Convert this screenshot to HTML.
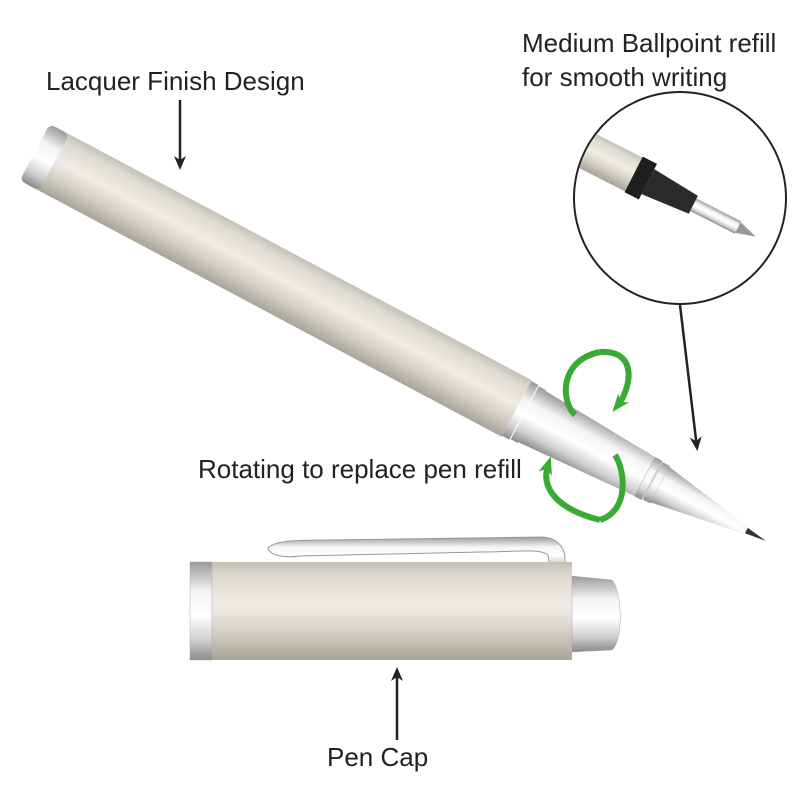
<!DOCTYPE html>
<html><head><meta charset="utf-8"><style>
html,body{margin:0;padding:0;background:#fff;}
svg{display:block;}
text{font-family:"Liberation Sans",Arial,sans-serif;fill:#222;font-size:26px;}
</style></head><body>
<svg width="800" height="800" viewBox="0 0 800 800" xmlns="http://www.w3.org/2000/svg">
<defs>
<linearGradient id="body" x1="0" y1="0" x2="0" y2="1">
<stop offset="0" stop-color="#c4c0b4"/><stop offset="0.15" stop-color="#dedbd0"/>
<stop offset="0.45" stop-color="#efede7"/><stop offset="0.7" stop-color="#d6d2c6"/>
<stop offset="1" stop-color="#a8a498"/></linearGradient>
<linearGradient id="chrome" x1="0" y1="0" x2="0" y2="1">
<stop offset="0" stop-color="#9a9a9a"/><stop offset="0.3" stop-color="#f4f4f4"/>
<stop offset="0.55" stop-color="#ffffff"/><stop offset="0.8" stop-color="#cfcfcf"/>
<stop offset="1" stop-color="#8a8a8a"/></linearGradient>
<marker id="ah" markerWidth="14" markerHeight="14" refX="11" refY="7" orient="auto" markerUnits="userSpaceOnUse">
<path d="M0,1 L14,7 L0,13 L4,7 Z" fill="#222"/></marker>
<marker id="gh" markerWidth="18" markerHeight="18" refX="9" refY="9" orient="auto" markerUnits="userSpaceOnUse">
<path d="M0,2 L18,9 L0,16 L5,9 Z" fill="#3aaa35"/></marker>
</defs>

<!-- pen -->
<g transform="translate(40,155) rotate(28)">
  <rect x="0" y="-32" width="540" height="64" fill="url(#body)"/>
  <rect x="-6" y="-32" width="22" height="64" rx="6" fill="url(#chrome)"/>
  <rect x="540" y="-31" width="8" height="62" fill="url(#chrome)"/>
  <rect x="549" y="-30" width="8" height="60" fill="url(#chrome)"/>
  <polygon points="557,-29 685,-22 685,22 557,29" fill="url(#chrome)"/>
  <rect x="685" y="-22" width="8" height="44" fill="url(#chrome)" stroke="#aaa" stroke-width="0.5"/>
  <rect x="694" y="-21" width="8" height="42" fill="url(#chrome)" stroke="#aaa" stroke-width="0.5"/>
  <polygon points="702,-20 800,-4 800,4 702,20" fill="url(#chrome)"/>
  <polygon points="800,-3 822,0 800,3" fill="#333"/>
</g>

<!-- green rotation arrows -->
<g fill="none" stroke="#3aaa35" stroke-width="6">
  <path d="M600,352 C560,360 560,400 575,415" />
  <path d="M600,352 C640,350 630,390 618,405" marker-end="url(#gh)"/>
  <path d="M600,520 C560,510 540,490 548,465" marker-end="url(#gh)"/>
  <path d="M600,520 C630,510 625,470 615,455"/>
</g>

<!-- cap -->
<path d="M268,548 C275,540 300,540 330,540 L540,537 C555,537 565,545 565,560 L565,570 L550,570 L548,555 C540,548 520,552 480,552 L300,556 C285,558 270,556 268,548 Z" fill="url(#chrome)" stroke="#999" stroke-width="1"/>
<rect x="210" y="562" width="362" height="98" fill="url(#body)"/>
<rect x="190" y="562" width="22" height="98" fill="url(#chrome)" stroke="#aaa" stroke-width="0.5"/>
<path d="M572,576 L612,580 C622,590 624,640 612,650 L572,652 Z" fill="url(#chrome)" stroke="#aaa" stroke-width="0.5"/>

<!-- circle inset -->
<clipPath id="cc"><circle cx="680" cy="198" r="105"/></clipPath>
<circle cx="680" cy="198" r="106" fill="#fff" stroke="#222" stroke-width="2"/>
<g clip-path="url(#cc)">
<g transform="translate(680,198) rotate(27)">
  <rect x="-160" y="-19" width="110" height="38" fill="url(#body)"/>
  <rect x="-52" y="-20" width="16" height="40" fill="#1e1e1e"/>
  <polygon points="-36,-14 15,-10 15,10 -36,14" fill="#2a2a2a"/>
  <rect x="15" y="-7" width="50" height="14" fill="url(#chrome)"/>
  <polygon points="65,-6 85,0 65,6" fill="#999"/>
</g>
</g>

<!-- labels -->
<text x="46" y="90">Lacquer Finish Design</text>
<line x1="180" y1="100" x2="180" y2="167" stroke="#222" stroke-width="2.5" marker-end="url(#ah)"/>
<text x="522" y="52">Medium Ballpoint refill</text>
<text x="522" y="86">for smooth writing</text>
<line x1="680" y1="305" x2="697" y2="448" stroke="#222" stroke-width="2.5" marker-end="url(#ah)"/>
<text x="198" y="478">Rotating to replace pen refill</text>
<line x1="397" y1="740" x2="397" y2="670" stroke="#222" stroke-width="2.5" marker-end="url(#ah)"/>
<text x="327" y="766">Pen Cap</text>
</svg>
</body></html>
